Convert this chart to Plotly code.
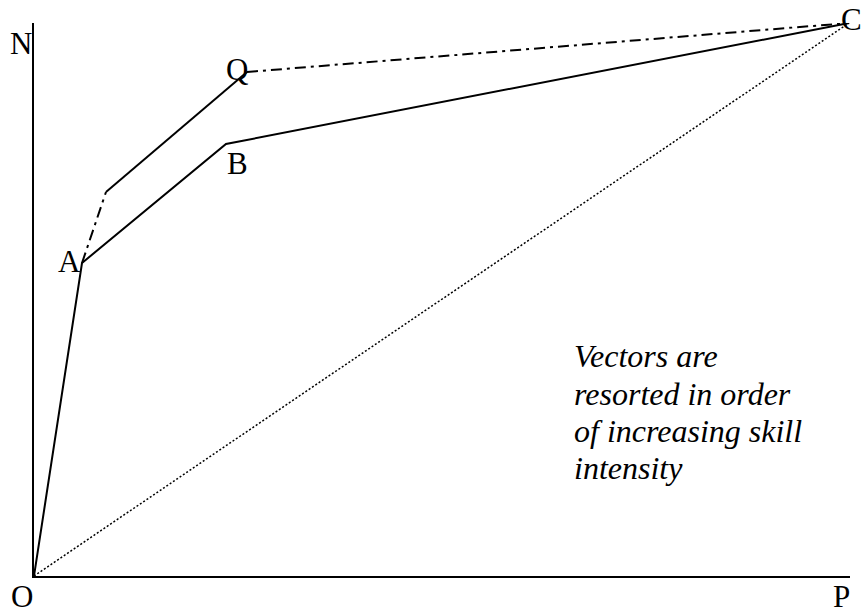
import plotly.graph_objects as go

# Vertices (data units: origin at O)
frontier_x = [0, 48, 192, 815]      # O, A, B, C
frontier_y = [0, 313, 432, 553]
resorted_solid_x = [72, 213]        # kink -> Q
resorted_solid_y = [384, 504]
resorted_dash1_x = [48, 72]         # A -> kink
resorted_dash1_y = [313, 384]
resorted_dash2_x = [213, 815]       # Q -> C
resorted_dash2_y = [504, 553]
diag_x = [0, 815]                   # O -> C
diag_y = [0, 553]

X_MAX = 816
Y_MAX = 553

label_text = ["N", "A", "B", "Q", "C", "O", "P"]
label_x = [-13, 35, 203, 203, 830, -12, 807]
label_y = [533, 315, 412, 507, 557, -20, -20]
label_anchor = ["center", "center", "center", "center", "right", "center", "center"]

note_lines = ["Vectors are", "resorted in order", "of increasing skill", "intensity"]
note_y = [220, 182, 145, 108]
NOTE_X = 538

FONT = "Liberation Serif, Times New Roman, serif"

fig = go.Figure()
fig.add_trace(go.Scatter(x=diag_x, y=diag_y, mode="lines",
                         line=dict(color="black", width=1.5, dash="2px,2px")))
fig.add_trace(go.Scatter(x=frontier_x, y=frontier_y, mode="lines",
                         line=dict(color="black", width=2)))
fig.add_trace(go.Scatter(x=resorted_solid_x, y=resorted_solid_y, mode="lines",
                         line=dict(color="black", width=2)))
for xs, ys in [(resorted_dash1_x, resorted_dash1_y), (resorted_dash2_x, resorted_dash2_y)]:
    fig.add_trace(go.Scatter(x=xs, y=ys, mode="lines",
                             line=dict(color="black", width=2, dash="11px,5px,3px,5px")))

for t, x, y, a in zip(label_text, label_x, label_y, label_anchor):
    fig.add_annotation(x=x / X_MAX, y=y / Y_MAX, xref="paper", yref="paper",
                       text=t, showarrow=False,
                       xanchor=a, yanchor="middle",
                       font=dict(family=FONT, size=31, color="black"))

for t, y in zip(note_lines, note_y):
    fig.add_annotation(x=NOTE_X / X_MAX, y=y / Y_MAX, xref="paper", yref="paper",
                       text="<i>" + t + "</i>", showarrow=False, align="left",
                       xanchor="left", yanchor="middle",
                       font=dict(family=FONT, size=32, color="black"))

fig.update_layout(
    width=865, height=614,
    margin=dict(l=34, r=15, t=23, b=38),
    paper_bgcolor="white", plot_bgcolor="white",
    showlegend=False,
    xaxis=dict(range=[0, X_MAX], showline=True, linecolor="black", linewidth=2,
               showgrid=False, zeroline=False, showticklabels=False, ticks=""),
    yaxis=dict(range=[0, Y_MAX], showline=True, linecolor="black", linewidth=2,
               showgrid=False, zeroline=False, showticklabels=False, ticks=""),
)

fig.write_html("out.html", config={"displayModeBar": False},
               post_script="document.body.style.margin='0';document.body.style.overflow='hidden';")
